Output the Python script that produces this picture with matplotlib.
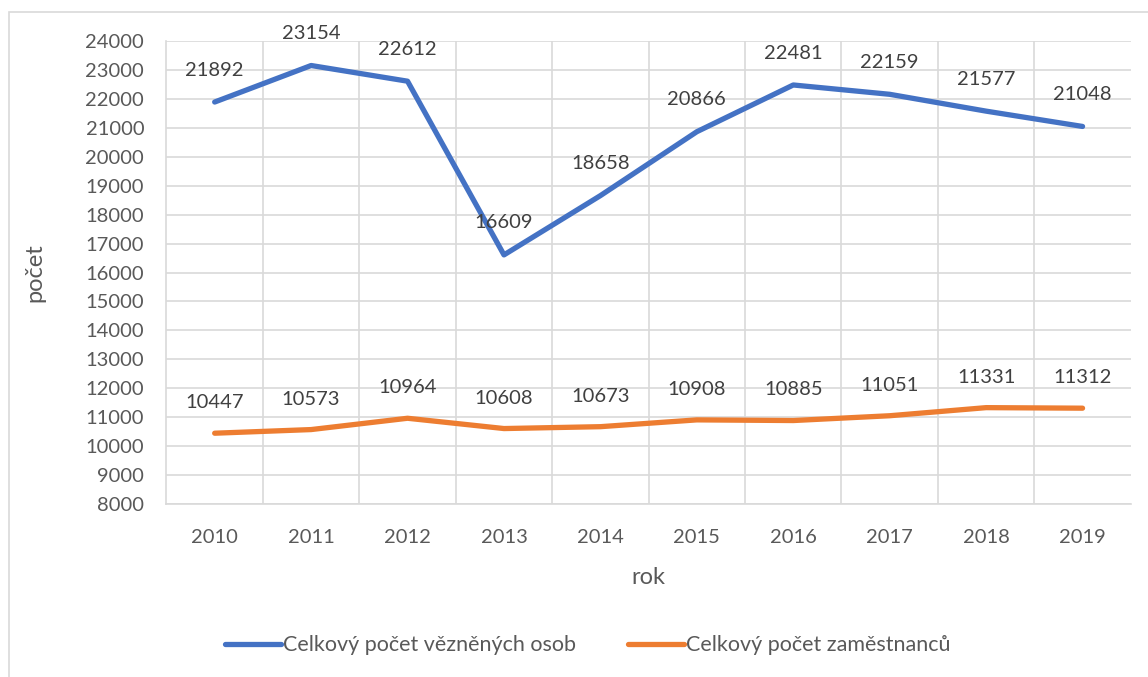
import matplotlib
matplotlib.use("Agg")
import matplotlib.pyplot as plt
from matplotlib.patches import Rectangle

# data
years = ["2010", "2011", "2012", "2013", "2014", "2015", "2016", "2017", "2018", "2019"]
vezni = [21892, 23154, 22612, 16609, 18658, 20866, 22481, 22159, 21577, 21048]
zamestnanci = [10447, 10573, 10964, 10608, 10673, 10908, 10885, 11051, 11331, 11312]
yticks = list(range(8000, 24001, 1000))

blue = "#4472C4"
orange = "#ED7D31"
txt = "#595959"
grid = "#D9D9D9"

plt.rcParams["font.family"] = ["Lato", "DejaVu Sans"]

fig = plt.figure(figsize=(11.48, 6.77), dpi=100)
ax = fig.add_axes([0.145, 0.2555, 0.84, 0.6839])

# outer chart border (runs off the right/bottom edge in the reference)
fig.patches.append(Rectangle((9 / 1148, -0.1), 1.2, 1 - 12 / 677 + 0.1,
                             transform=fig.transFigure, fill=False,
                             edgecolor=grid, linewidth=1.2))

x = list(range(len(years)))
ax.plot(x, vezni, color=blue, linewidth=3.8, solid_capstyle="round",
        label="Celkový počet vězněných osob")
ax.plot(x, zamestnanci, color=orange, linewidth=3.8, solid_capstyle="round",
        label="Celkový počet zaměstnanců")

for xi, v in zip(x, vezni):
    ax.annotate(str(v), (xi, v), xytext=(0, 23), textcoords="offset points",
                ha="center", va="center", fontsize=14.5, color="#404040")
for xi, v in zip(x, zamestnanci):
    ax.annotate(str(v), (xi, v), xytext=(0, 22), textcoords="offset points",
                ha="center", va="center", fontsize=14.5, color="#404040")

ax.set_xlim(-0.5, len(years) - 0.5)
ax.set_ylim(8000, 24000)
ax.set_yticks(yticks)
ax.set_yticklabels([str(t) for t in yticks])
ax.set_xticks(x)
ax.set_xticklabels(years)
ax.set_xticks([i + 0.5 for i in x[:-1]], minor=True)

ax.grid(axis="y", color=grid, linewidth=1.2)
ax.grid(axis="x", which="minor", color=grid, linewidth=1.2)
ax.set_axisbelow(True)
for s in ["top", "right"]:
    ax.spines[s].set_visible(False)
ax.spines["left"].set_color(grid)
ax.spines["bottom"].set_color(grid)
ax.spines["left"].set_linewidth(1.2)
ax.spines["bottom"].set_linewidth(1.2)
ax.tick_params(which="both", length=0, labelsize=14.5, colors=txt)
ax.tick_params(axis="y", pad=16)
ax.tick_params(axis="x", pad=18)

ax.set_xlabel("rok", fontsize=17, color=txt)
ax.set_ylabel("počet", fontsize=17, color=txt)
ax.xaxis.set_label_coords(0.5, -0.137)
ax.yaxis.set_label_coords(-0.126, 0.5)

leg = fig.legend(loc="center", bbox_to_anchor=(0.512, 0.047), ncol=2, frameon=False,
                 fontsize=15.5, handlelength=2.6, handletextpad=0.1, columnspacing=2.4)
for t in leg.get_texts():
    t.set_color(txt)

fig.savefig("out.png", dpi=100)
